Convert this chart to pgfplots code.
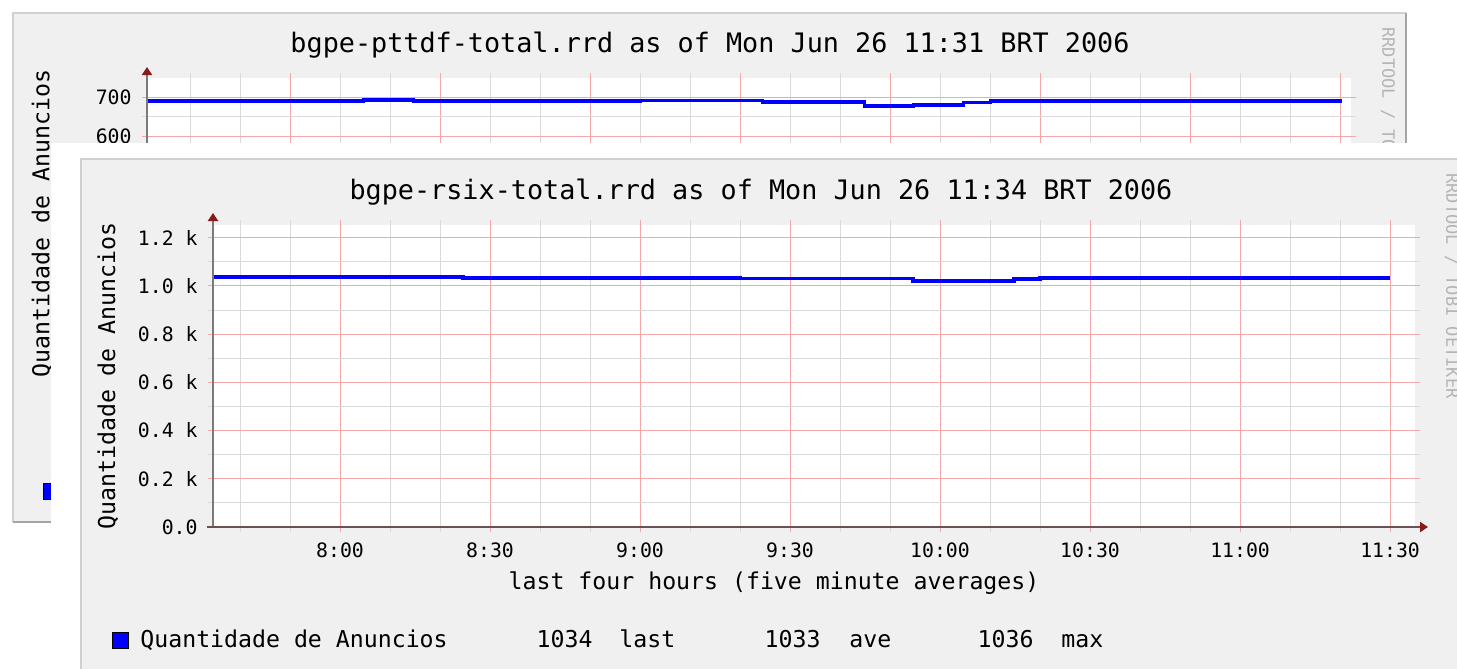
\documentclass[border=0pt]{standalone}
\usepackage{fontspec}
\setmainfont{DejaVu Sans Mono}
\usepackage{pgfplots}
\pgfplotsset{compat=1.18}
\usetikzlibrary{arrows.meta}
\definecolor{rrdback}{HTML}{F0F0F0}
\definecolor{rrdmgrid}{HTML}{F2A8A8}
\definecolor{rrdgrid}{HTML}{DADADA}
\definecolor{rrdaxis}{HTML}{7A7A7A}
\definecolor{rrdaxisx}{HTML}{6A5252}
\definecolor{rrdarrow}{HTML}{8B1A1A}
\definecolor{rrdframeL}{HTML}{D0D0D0}
\definecolor{rrdframeD}{HTML}{A4A4A4}
\definecolor{rrdwm}{HTML}{B4B4B4}
\newcommand\titlefont{\fontsize{13.4}{15}\selectfont}
\newcommand\labelfont{\fontsize{11.6}{13}\selectfont}
\newcommand\tickfont{\fontsize{9.9}{11}\selectfont}
\newcommand\wmfont{\fontsize{8.5}{9}\selectfont}
\pgfplotsset{
  rrd/.style={
    scale only axis,
    axis background/.style={fill=white},
    axis line style={draw=none},
    tick align=outside,
    major tick length=2.5pt,
    minor tick length=2.5pt,
    every major tick/.append style={rrdmgrid, line width=0.5pt},
    every minor tick/.append style={rrdgrid, line width=0.5pt},
    grid=both,
    major grid style={rrdmgrid, line width=0.5pt},
    minor grid style={rrdgrid, line width=0.5pt},
    ticklabel style={font=\tickfont},
    xticklabel style={yshift=-2pt},
    yticklabel style={xshift=-1.7pt},
    clip=false,
    xtick={60,90,120,150,180,210,240,270},
    xticklabels={8:00,8:30,9:00,9:30,10:00,10:30,11:00,11:30},
    minor xtick={40,50,70,80,100,110,130,140,160,170,190,200,220,230,250,260},
  },
  rrdline/.style={const plot, color=blue, line width=1.85pt, no marks},
}
\begin{document}
\begin{tikzpicture}
\useasboundingbox (0,0) rectangle (728.5pt,-334.5pt);
\clip (0,0) rectangle (728.5pt,-334.5pt);
\fill[white] (0,0) rectangle (728.5pt,-334.5pt);
% ---------------- panel 1 (back) ----------------
\begin{scope}[x=0.5pt,y=-0.5pt]
  \fill[rrdback] (12,12) rectangle (1407,523);
  \draw[rrdframeL, line width=1.25pt] (13,522) -- (13,13) -- (1406,13);
  \draw[rrdframeD, line width=1.25pt] (13,522) -- (1406,522) -- (1406,13);
  \node[font=\titlefont, inner sep=0] at (710,45) {bgpe-pttdf-total.rrd as of Mon Jun 26 11:31 BRT 2006};
  \node[font=\wmfont, text=rrdwm, rotate=-90, anchor=west, inner sep=0] at (1388,27) {RRDTOOL / TOBI OETIKER};
\end{scope}
\begin{axis}[rrd,
  at={(73.5pt,-184.5pt)}, anchor=south west,
  width=602pt, height=145.5pt,
  xmin=31.3, xmax=272.1, ymin=0, ymax=750,
  ytick={0,100,200,300,400,500,600,700},
  yticklabels={0,100,200,300,400,500,600,700},
  minor ytick={50,150,250,350,450,550,650},
  ylabel={Quantidade de Anuncios},
  every axis y label/.style={at={(rel axis cs:-0.0872,0.5)}, rotate=90, anchor=center, font=\labelfont},
]
\addplot[rrdline] coordinates {
(31.4,691) (74.6,694) (84.6,690) (130,692) (154.4,688) (174.8,677)
(184.6,680) (194.6,687) (200,690) (270.2,690)};
\draw[rrdaxis, line width=1pt, -{Triangle[length=4pt,width=5pt,color=rrdarrow]}]
  (rel axis cs:0,0) -- ([yshift=5.5pt]rel axis cs:0,1);
\end{axis}
\begin{scope}[x=0.5pt,y=-0.5pt]
  \filldraw[fill=blue, draw=black, line width=0.5pt] (43,483) rectangle (59,499);
  % ---------------- panel 2 (front) ----------------
  \fill[white] (51,143) rectangle (1470,680);
  \fill[rrdback] (80,158) rectangle (1470,680);
  \draw[rrdframeL, line width=1.25pt] (81,680) -- (81,159) -- (1470,159);
  \node[font=\titlefont, inner sep=0] at (761,192) {bgpe-rsix-total.rrd as of Mon Jun 26 11:34 BRT 2006};
  \node[font=\wmfont, text=rrdwm, rotate=-90, anchor=west, inner sep=0] at (1452,173) {RRDTOOL / TOBI OETIKER};
\end{scope}
\begin{axis}[rrd,
  at={(106.5pt,-263.5pt)}, anchor=south west,
  width=601pt, height=151pt,
  xmin=34.6, xmax=275.0, ymin=0, ymax=1253,
  ytick={0,200,400,600,800,1000,1200},
  yticklabels={0.0,0.2 k,0.4 k,0.6 k,0.8 k,1.0 k,1.2 k},
  minor ytick={100,300,500,700,900,1100},
  ylabel={Quantidade de Anuncios},
  every axis y label/.style={at={(rel axis cs:-0.0874,0.5)}, rotate=90, anchor=center, font=\labelfont},
  xlabel={last four hours (five minute averages)},
  every axis x label/.style={at={(rel axis cs:0.4667,-0.1854)}, anchor=center, font=\labelfont},
]
\addplot[rrdline] coordinates {
(34.6,1036) (84.6,1033) (140,1031) (174.6,1020) (194.8,1030) (200,1034) (270,1034)};
\draw[rrdaxis, line width=1pt, -{Triangle[length=4pt,width=5pt,color=rrdarrow]}]
  (rel axis cs:0,0) -- ([yshift=6pt]rel axis cs:0,1);
\draw[rrdaxisx, line width=1pt, -{Triangle[length=4pt,width=5pt,color=rrdarrow]}]
  ([xshift=-3pt]rel axis cs:0,0) -- ([xshift=6.5pt]rel axis cs:1,0);
\end{axis}
\begin{scope}[x=0.5pt,y=-0.5pt]
  \filldraw[fill=blue, draw=black, line width=0.5pt] (112,632) rectangle (128,648);
  \node[font=\labelfont, anchor=base west, inner sep=0] at (140,647) {Quantidade de Anuncios};
  \node[font=\labelfont, anchor=base east, inner sep=0] at (593,647) {1034};
  \node[font=\labelfont, anchor=base west, inner sep=0] at (619,647) {last};
  \node[font=\labelfont, anchor=base east, inner sep=0] at (821,647) {1033};
  \node[font=\labelfont, anchor=base west, inner sep=0] at (849,647) {ave};
  \node[font=\labelfont, anchor=base east, inner sep=0] at (1034,647) {1036};
  \node[font=\labelfont, anchor=base west, inner sep=0] at (1061,647) {max};
\end{scope}
\end{tikzpicture}
\end{document}
